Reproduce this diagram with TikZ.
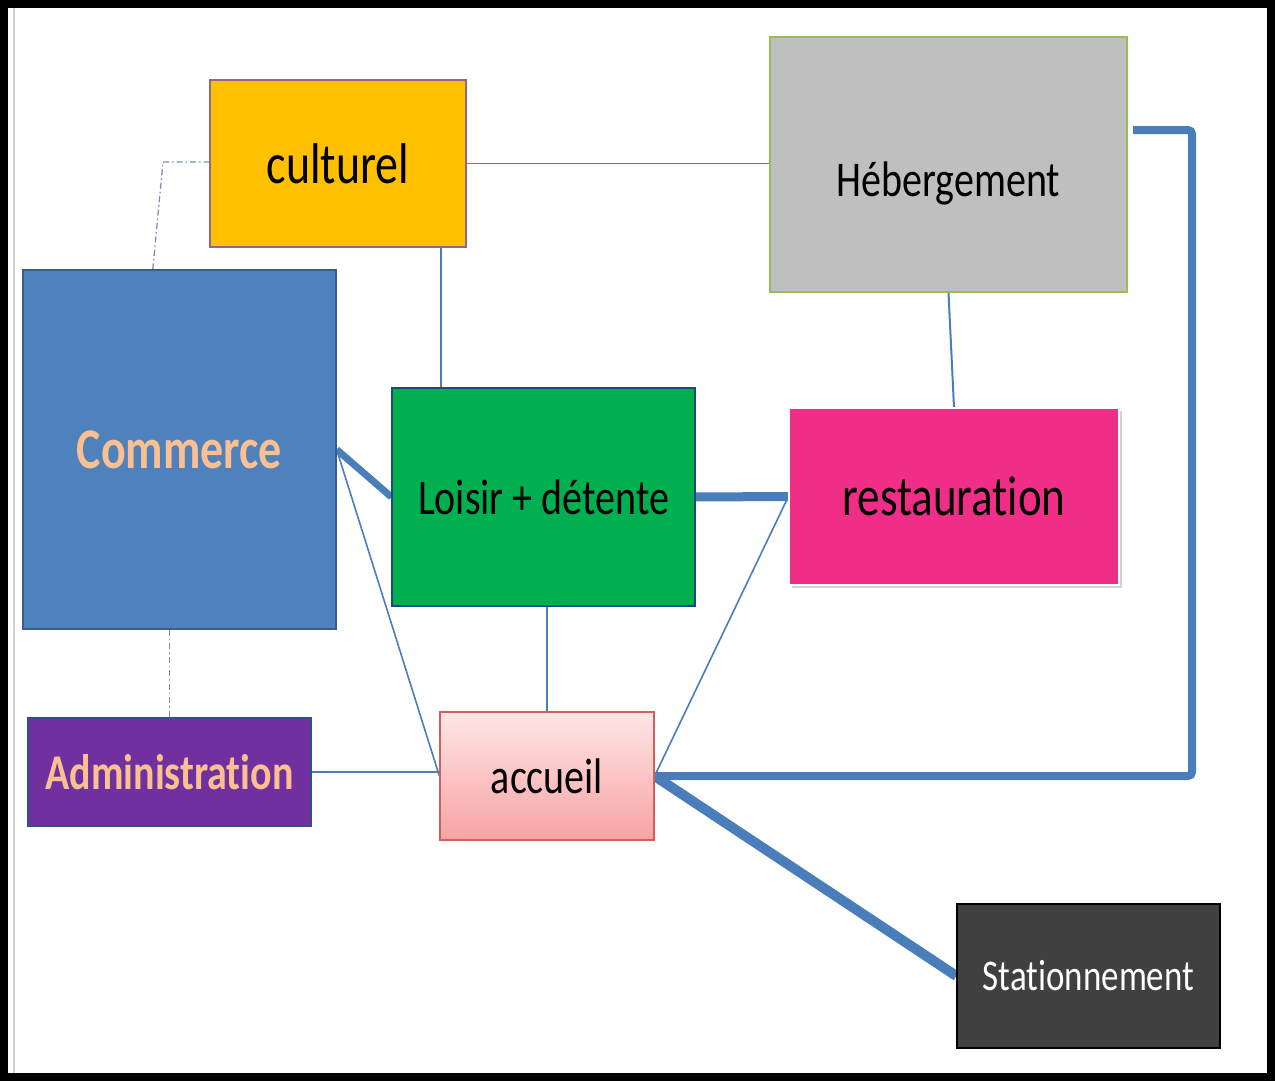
\documentclass[tikz,border=0pt]{standalone}
\usepackage{graphicx}
\usepackage{fontspec}
\setmainfont{Carlito}[Ligatures=NoCommon]
\usetikzlibrary{calc,shadows,backgrounds}
\definecolor{cCult}  {HTML}{FFC000}
\definecolor{cHeb}   {HTML}{BFBFBF}
\definecolor{cComm}  {HTML}{4F81BD}
\definecolor{cLoisir}{HTML}{00B050}
\definecolor{cResto} {HTML}{F02D87}
\definecolor{cAdmin} {HTML}{7030A0}
\definecolor{cParc}  {HTML}{404040}
\definecolor{cAccTop}{HTML}{FFE6E6}
\definecolor{cAccBot}{HTML}{F7A3A3}
\definecolor{eCult}  {HTML}{8E6A8A}
\definecolor{eHeb}   {HTML}{9BBB59}
\definecolor{eComm}  {HTML}{385D8A}
\definecolor{eLoisir}{HTML}{1F497D}
\definecolor{eAdmin} {HTML}{2F4F8F}
\definecolor{eAcc}   {HTML}{D0605C}
\definecolor{link}   {HTML}{4A7EBB}
\definecolor{linkdd} {HTML}{7F8DB3}
\definecolor{peach}  {HTML}{FAC090}
\newcommand{\fsz}[1]{\fontsize{#1}{#1}\selectfont}
\newcommand{\tall}[1]{\scalebox{1}[1.25]{#1}}

\begin{document}
\begin{tikzpicture}[x=1pt,y=1pt,
    box/.style   ={draw,line width=1.2pt,inner sep=0pt},
    lien/.style  ={draw=link,line width=1.6pt},
    fort/.style  ={draw=link,line width=9pt},
    tirets/.style={draw=linkdd,line width=1.3pt,
                   dash pattern=on 6pt off 3pt on 1.5pt off 3pt},
  ]

% fixed bounding box -> same proportions as the scan
\path[use as bounding box] (0,0) rectangle (1275,-1081);

% ---- frame -----------------------------------------------------------------
\draw[line width=8pt] (4,-4) rectangle (1271,-1077);
\draw[gray!35,line width=1.5pt] (14,-8) -- (14,-1073);

% ---- zones -----------------------------------------------------------------
\node[box,draw=eCult,fill=cCult,minimum width=256pt,minimum height=167pt,
      font=\fsz{46}] (cult) at (338,-163.5) {\tall{culturel}};

\node[box,draw=eHeb,fill=cHeb,minimum width=357pt,minimum height=255pt,
      label={[font=\fsz{40},yshift=-19pt]center:\tall{Hébergement}}]
  (heb) at (948.5,-164.5) {};

\node[box,draw=eComm,fill=cComm,minimum width=313pt,minimum height=359pt,
      font=\bfseries\fsz{46},text=peach] (comm) at (179.5,-449.5)
  {\tall{Commerce}};

\node[box,draw=eLoisir,fill=cLoisir,minimum width=303pt,minimum height=218pt,
      font=\fsz{40}] (loisir) at (543.5,-497) {\tall{Loisir + détente}};

\node[box,draw=white,fill=cResto,minimum width=330pt,minimum height=177pt,
      drop shadow={opacity=0.35,shadow xshift=3pt,shadow yshift=-3pt},
      font=\fsz{45}] (resto) at (954,-496.5) {\tall{restauration}};

\node[box,draw=eAdmin,fill=cAdmin,minimum width=283pt,minimum height=108pt,
      font=\bfseries\fsz{40},text=peach] (admin) at (169.5,-772)
  {\tall{Administration}};

\node[box,draw=eAcc,top color=cAccTop,bottom color=cAccBot,
      minimum width=214pt,minimum height=128pt,
      font=\fsz{40}] (acc) at (547,-776) {\tall{accueil}};

\node[box,draw=black,fill=cParc,minimum width=263pt,minimum height=144pt,
      font=\fsz{35},text=white] (parc) at (1088.5,-976) {\tall{Stationnement}};

% ---- liaisons --------------------------------------------------------------
\coordinate (cultbas) at ($(cult.south west)!0.9!(cult.south east)$);
\coordinate (commhaut) at ($(comm.north west)!0.415!(comm.north east)$);
\coordinate (coude) at (163,-162);
\coordinate (rtturn) at (1192,-130);
\coordinate (hebin) at (1133,-130);

\begin{pgfonlayer}{background}
\draw[lien] (cult.east) -- (cult.east -| heb.west);
\draw[lien] (cultbas) -- (cultbas |- loisir.north);
\draw[lien,line width=2pt] (heb.south) -- (resto.north);
\draw[lien] (comm.east) -- (acc.west);
\draw[lien] (resto.west) -- (acc.east);
\draw[lien] (acc.north |- loisir.south) -- (acc.north);
\draw[lien] (admin.east) -- (admin.east -| acc.west);

\draw[tirets] (commhaut) -- (coude) -- (coude -| cult.west);
\draw[tirets] (admin.north |- comm.south) -- (admin.north);

\draw[fort,line width=7pt] (comm.east) -- (loisir.west);
\draw[fort] (loisir.east) -- (resto.west);
\draw[fort,line width=8pt,rounded corners=4pt] (acc.east) -| (rtturn) -- (hebin);
\draw[fort,line width=10pt] (acc.east) -- (parc.west);
\end{pgfonlayer}

\end{tikzpicture}
\end{document}
